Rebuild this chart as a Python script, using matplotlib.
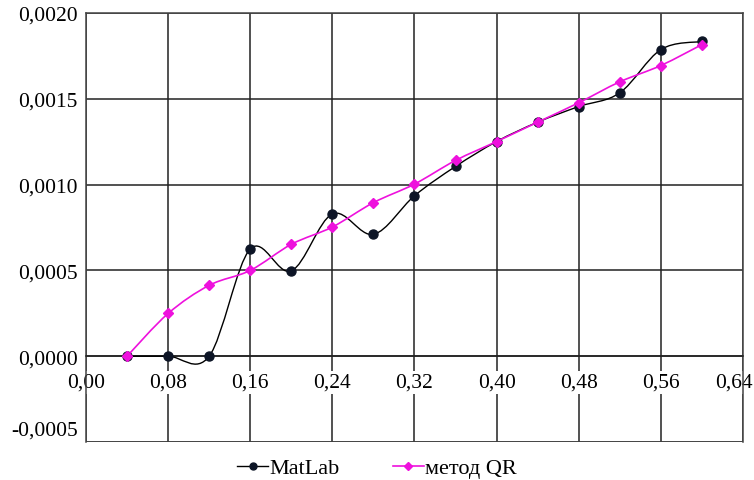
import matplotlib
matplotlib.use("Agg")
import matplotlib.pyplot as plt
import matplotlib.transforms as mtransforms
from matplotlib.path import Path
from matplotlib.patches import PathPatch
from matplotlib.lines import Line2D
import numpy as np

x_vals = [0.04, 0.08, 0.12, 0.16, 0.20, 0.24, 0.28, 0.32, 0.36, 0.40, 0.44, 0.48, 0.52, 0.56, 0.60]
matlab = [0.0, 0.0, 0.0, 0.000625, 0.000497, 0.000829, 0.000710, 0.000935, 0.001106,
          0.001251, 0.001364, 0.001455, 0.001535, 0.001787, 0.001834]
qr = [0.0, 0.000249, 0.000413, 0.000500, 0.000652, 0.000753, 0.000895, 0.001003, 0.001141,
      0.001251, 0.001364, 0.001477, 0.001599, 0.001694, 0.001816]
x_ticks = [0.00, 0.08, 0.16, 0.24, 0.32, 0.40, 0.48, 0.56, 0.64]
y_ticks = [-0.0005, 0.0, 0.0005, 0.0010, 0.0015, 0.0020]
labels = ["MatLab", "метод QR"]

plt.rcParams['font.family'] = ['Liberation Serif', 'DejaVu Serif']

fig = plt.figure(figsize=(7.54, 4.81), dpi=100)
ax = fig.add_axes([86/754, 1-443/481, (743-86)/754, (443-14)/481])


def smooth_path(xs, ys):
    pts = np.column_stack([xs, ys])
    n = len(pts)
    verts = [pts[0]]
    codes = [Path.MOVETO]
    for i in range(n - 1):
        p0 = pts[i - 1] if i > 0 else pts[i]
        p1 = pts[i]
        p2 = pts[i + 1]
        p3 = pts[i + 2] if i + 2 < n else pts[i + 1]
        c1 = p1 + (p2 - p0) / 6.0
        c2 = p2 - (p3 - p1) / 6.0
        verts += [c1, c2, p2]
        codes += [Path.CURVE4] * 3
    return Path(verts, codes)


black_c = '#000000'
mk_c = '#0d1526'
mag = '#ee11dd'

ax.add_patch(PathPatch(smooth_path(x_vals, matlab), facecolor='none', edgecolor=black_c, lw=1.0, zorder=3))
ax.plot(x_vals, matlab, linestyle='none', marker='o', ms=6.5, color=mk_c, zorder=4)
ax.add_patch(PathPatch(smooth_path(x_vals, qr), facecolor='none', edgecolor=mag, lw=1.2, zorder=5))
ax.plot(x_vals, qr, linestyle='none', marker='D', ms=5.5, color=mag, zorder=6)

ax.set_xlim(0, 0.64)
ax.set_ylim(-0.0005, 0.0020)
ax.set_xticks(x_ticks)
ax.set_yticks(y_ticks)
ax.set_xticklabels([f"{v:.2f}".replace('.', ',') for v in x_ticks])
ax.set_yticklabels([f"{v:.4f}".replace('.', ',') for v in y_ticks])

ax.grid(True, color='#222222', lw=1.1)
for s in ax.spines.values():
    s.set_color('#444444')
    s.set_linewidth(1.1)
ax.spines['bottom'].set_position(('data', 0))
ax.spines['bottom'].set_color('#222222')
ax.axhline(-0.0005, color='#444444', lw=1.1)

ax.tick_params(axis='x', length=0, pad=12, labelsize=15.5)
ax.tick_params(axis='y', length=0, pad=6, labelsize=15.5)
for lbl in ax.get_xticklabels():
    lbl.set_bbox(dict(facecolor='white', edgecolor='none', pad=1.5))

# shift bottom y label up and last x label left
ylbls = ax.get_yticklabels()
ylbls[0].set_transform(ylbls[0].get_transform() + mtransforms.ScaledTranslation(0, 14/100, fig.dpi_scale_trans))
xlbls = ax.get_xticklabels()
xlbls[-1].set_transform(xlbls[-1].get_transform() + mtransforms.ScaledTranslation(-9/100, 0, fig.dpi_scale_trans))

handles = [
    Line2D([], [], color=black_c, lw=1.0, marker='o', ms=5, markerfacecolor=mk_c, markeredgecolor=mk_c),
    Line2D([], [], color=mag, lw=1.2, marker='D', ms=4.5, markerfacecolor=mag, markeredgecolor=mag),
]
fig.legend(handles, labels, loc='center', bbox_to_anchor=(0.5, 1 - 469/481), ncol=2,
           frameon=False, fontsize=16, handlelength=1.4, handletextpad=0.05, columnspacing=2.4,
           borderaxespad=0, borderpad=0)

fig.savefig('out.png', dpi=100)
